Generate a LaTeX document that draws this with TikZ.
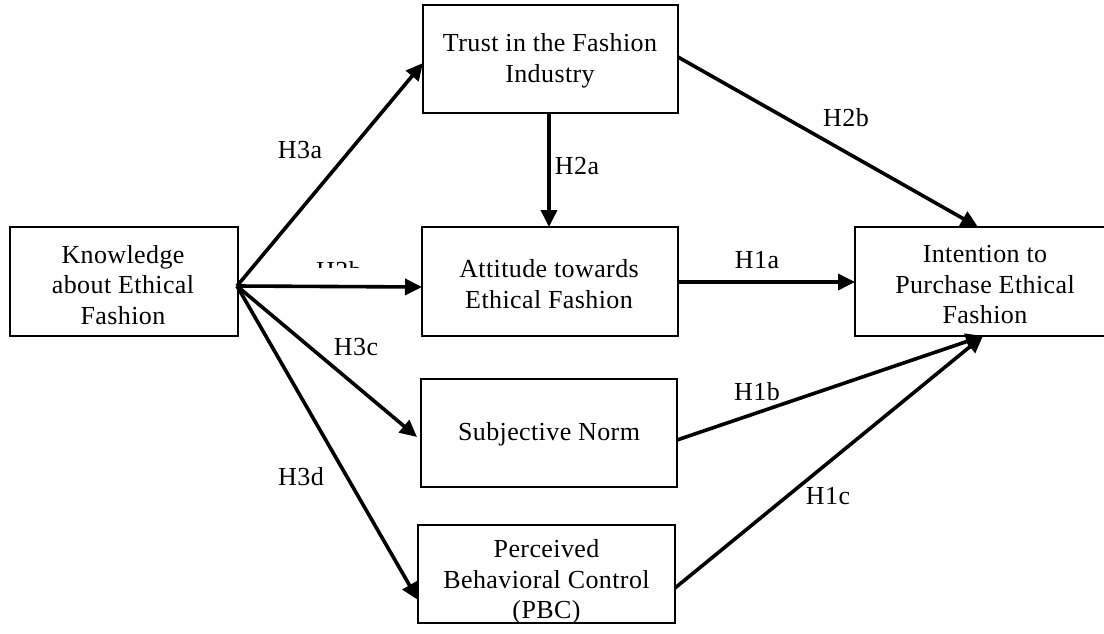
\documentclass[tikz,border=0pt]{standalone}
\usepackage{fontspec}
\setmainfont{Liberation Serif}[LetterSpace=1.5]
\usetikzlibrary{arrows.meta}
\tikzset{
  box/.style={draw, line width=1.8pt, inner sep=0pt, outer sep=0pt, align=center,
    font=\fontsize{26}{30.5}\selectfont},
  txt/.style={inner sep=0pt, align=center, font=\fontsize{26}{30.5}\selectfont},
  hyp/.style={font=\fontsize{26}{30.5}\selectfont, inner sep=0pt},
  arr/.style={line width=3.6pt, -{Triangle[length=17pt,width=16pt]}},
}
\begin{document}
\begin{tikzpicture}[x=1pt,y=-1pt]
\clip (0,0) rectangle (1104,634);
\fill[white] (0,0) rectangle (1104,634);
% boxes
\node[box, minimum width=228pt, minimum height=109pt] (kb) at (124,281.5) {};
\node[txt] (kbt) at (123,285) {Knowledge\\about Ethical\\Fashion};
\node[box, minimum width=255pt, minimum height=108pt] (trust) at (550.5,59) {};
\node[txt] (trustt) at (550,61) {Trust in the Fashion\\Industry};
\node[box, minimum width=256pt, minimum height=109pt] (att) at (550,281.5) {};
\node[txt] (attt) at (549,284) {Attitude towards\\Ethical Fashion};
\node[box, minimum width=256pt, minimum height=108pt] (sn) at (549,433) {};
\node[txt] (snt) at (549,434) {Subjective Norm};
\node[box, minimum width=257pt, minimum height=98pt] (pbc) at (546.5,574) {};
\node[txt] (pbct) at (546.5,582) {Perceived\\Behavioral Control\\(PBC)};
\node[box, minimum width=260pt, minimum height=109pt] (int) at (985,281.5) {};
\node[txt] (intt) at (985,285) {Intention to\\Purchase Ethical\\Fashion};
% origin of arrows from knowledge box
\coordinate (k) at (237,286);
% connectors
\draw[arr] (k) -- ([yshift=-4pt]trust.west);
\draw[arr] (k) -- ([yshift=-5.5pt]att.west);
\draw[arr] (k) -- ([yshift=-4pt, xshift=-4pt]sn.west);
\draw[arr] (k) -- ([yshift=-26pt]pbc.west);
\draw[arr] ([xshift=-1.5pt]trust.south) -- ([xshift=-1pt]att.north);
\draw[arr] ([yshift=2pt]trust.east) -- ([xshift=-7pt]int.north);
\draw[arr] ([yshift=-0.5pt]att.east) -- ([yshift=-0.5pt]int.west);
\draw[arr] ([yshift=-7pt]sn.east) -- ([xshift=-2pt]int.south);
\draw[arr] ([yshift=-14pt]pbc.east) -- ([xshift=-2pt]int.south);
% labels
\node[hyp] (l3a) at (300,150) {H3a};
\begin{scope}
\clip (300,240) rectangle (380,267.5);
\node[hyp, anchor=base] (l3b) at (339,279) {H3b};
\end{scope}
\node[hyp] (l2a) at (577,166) {H2a};
\node[hyp] (l2b) at (846,118) {H2b};
\node[hyp] (l1a) at (757,260) {H1a};
\node[hyp] (l3c) at (356,347) {H3c};
\node[hyp] (l3d) at (301,477) {H3d};
\node[hyp] (l1b) at (757,392) {H1b};
\node[hyp] (l1c) at (828,496) {H1c};
\end{tikzpicture}
\end{document}
